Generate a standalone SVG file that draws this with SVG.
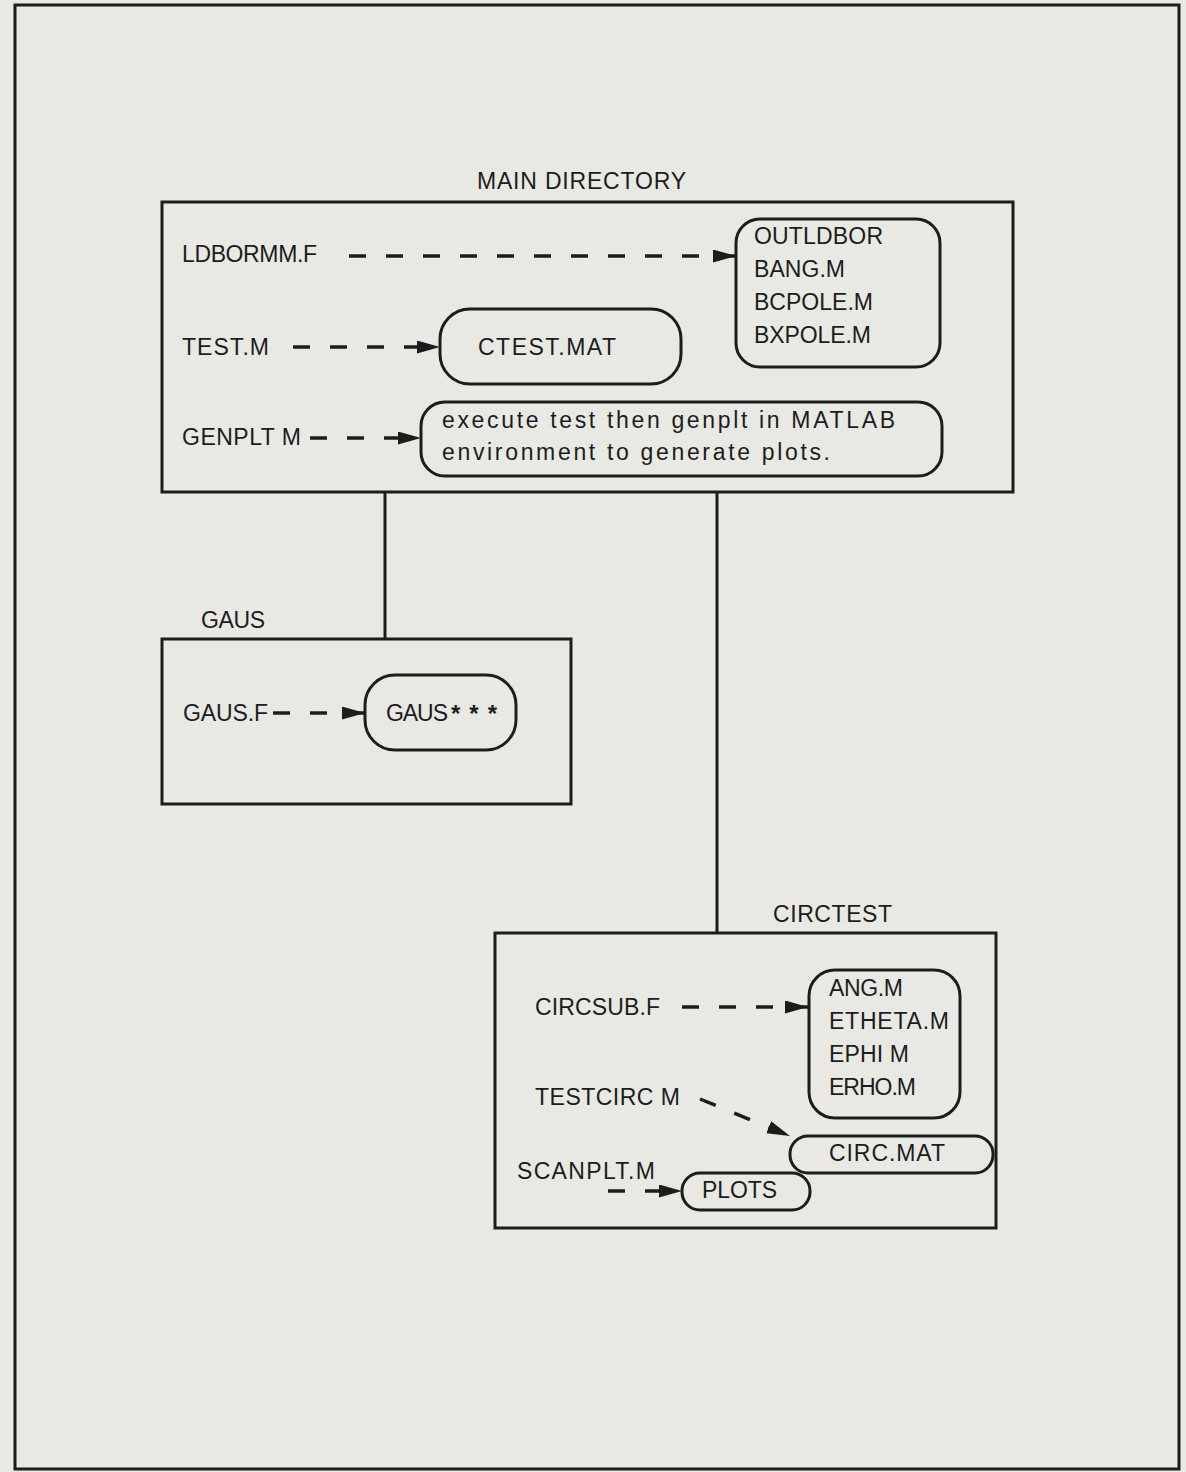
<svg xmlns="http://www.w3.org/2000/svg" width="1186" height="1472" viewBox="0 0 1186 1472">
<style>
.bg{fill:#e9e9e3}
.frame{fill:none;stroke:#1c1c1c;stroke-width:3}
.box{fill:none;stroke:#1c1c1c;stroke-width:3}
.t{font-family:"Liberation Sans",Arial,sans-serif;font-size:23px;fill:#1c1c1c}
.d{fill:none;stroke:#1c1c1c;stroke-width:3.5;stroke-dasharray:17 20}
.ln{fill:none;stroke:#1c1c1c;stroke-width:3}
</style>
<defs>
<marker id="ah" markerWidth="26" markerHeight="14" refX="23" refY="6.5" orient="auto" markerUnits="userSpaceOnUse">
<path d="M0,0 L23,6.5 L0,13 z" fill="#1c1c1c"/>
</marker>
</defs>
<rect class="bg" x="0" y="0" width="1186" height="1472"/>
<rect class="frame" x="15" y="5" width="1164" height="1464"/>

<g id="connectors">
<line class="ln" x1="385" y1="492" x2="385" y2="639"/>
<line class="ln" x1="717" y1="492" x2="717" y2="933"/>
<line class="d" x1="349" y1="256" x2="736" y2="256" marker-end="url(#ah)"/>
<line class="d" x1="293" y1="347" x2="440" y2="347" marker-end="url(#ah)"/>
<line class="d" x1="310" y1="438" x2="421" y2="438" marker-end="url(#ah)"/>
<line class="d" x1="273" y1="713" x2="365" y2="713" marker-end="url(#ah)"/>
<line class="d" x1="682" y1="1007" x2="808" y2="1007" marker-end="url(#ah)"/>
<line class="d" x1="700" y1="1099" x2="790" y2="1136" marker-end="url(#ah)"/>
<line class="d" x1="608" y1="1191" x2="682" y2="1191" stroke-dasharray="17 23" marker-end="url(#ah)"/>
</g>

<g id="main-directory">
<text class="t" x="477" y="189" textLength="209" lengthAdjust="spacing">MAIN DIRECTORY</text>
<rect class="box" x="162" y="202" width="851" height="290"/>
</g>
<g id="ldbormm">
<text class="t" x="182" y="262" textLength="135" lengthAdjust="spacing">LDBORMM.F</text>
</g>
<g id="outldbor">
<rect class="box" x="736" y="219" width="204" height="148" rx="24" ry="24"/>
<text class="t" x="754" y="244" textLength="129" lengthAdjust="spacing">OUTLDBOR</text>
<text class="t" x="754" y="277" textLength="91" lengthAdjust="spacing">BANG.M</text>
<text class="t" x="754" y="310" textLength="119" lengthAdjust="spacing">BCPOLE.M</text>
<text class="t" x="754" y="343" textLength="117" lengthAdjust="spacing">BXPOLE.M</text>
</g>
<g id="test">
<text class="t" x="182" y="355" textLength="87" lengthAdjust="spacing">TEST.M</text>
</g>
<g id="ctest">
<rect class="box" x="440" y="309" width="241" height="75" rx="30" ry="30"/>
<text class="t" x="478" y="355" textLength="138" lengthAdjust="spacing">CTEST.MAT</text>
</g>
<g id="genplt">
<text class="t" x="182" y="445" textLength="119" lengthAdjust="spacing">GENPLT M</text>
</g>
<g id="execute-note">
<rect class="box" x="421" y="402" width="521" height="74" rx="24" ry="24"/>
<text class="t" x="442" y="428" textLength="453" lengthAdjust="spacing">execute test then genplt in MATLAB</text>
<text class="t" x="442" y="460" textLength="388" lengthAdjust="spacing">environment to generate plots.</text>
</g>

<g id="gaus-dir">
<text class="t" x="201" y="628" textLength="64" lengthAdjust="spacing">GAUS</text>
<rect class="box" x="162" y="639" width="409" height="165"/>
</g>
<g id="gausf">
<text class="t" x="183" y="721" textLength="85" lengthAdjust="spacing">GAUS.F</text>
</g>
<g id="gaus-out">
<rect class="box" x="365" y="675" width="151" height="75" rx="30" ry="30"/>
<text class="t" x="386" y="721" textLength="62" lengthAdjust="spacing">GAUS</text>
<text class="t" x="451" y="722" style="font-size:24px;font-weight:bold;letter-spacing:9px">***</text>
</g>

<g id="circtest-dir">
<text class="t" x="773" y="922" textLength="119" lengthAdjust="spacing">CIRCTEST</text>
<rect class="box" x="495" y="933" width="501" height="295"/>
</g>
<g id="circsub">
<text class="t" x="535" y="1015" textLength="125" lengthAdjust="spacing">CIRCSUB.F</text>
</g>
<g id="ang">
<rect class="box" x="809" y="970" width="151" height="148" rx="26" ry="26"/>
<text class="t" x="829" y="996" textLength="74" lengthAdjust="spacing">ANG.M</text>
<text class="t" x="829" y="1029" textLength="120" lengthAdjust="spacing">ETHETA.M</text>
<text class="t" x="829" y="1062" textLength="80" lengthAdjust="spacing">EPHI M</text>
<text class="t" x="829" y="1095" textLength="87" lengthAdjust="spacing">ERHO.M</text>
</g>
<g id="testcirc">
<text class="t" x="535" y="1105" textLength="145" lengthAdjust="spacing">TESTCIRC M</text>
</g>
<g id="circmat">
<rect class="box" x="790" y="1136" width="203" height="37" rx="18" ry="18"/>
<text class="t" x="829" y="1161" textLength="116" lengthAdjust="spacing">CIRC.MAT</text>
</g>
<g id="scanplt">
<text class="t" x="517" y="1179" textLength="138" lengthAdjust="spacing">SCANPLT.M</text>
</g>
<g id="plots">
<rect class="box" x="682" y="1173" width="128" height="37" rx="18" ry="18"/>
<text class="t" x="702" y="1198" textLength="75" lengthAdjust="spacing">PLOTS</text>
</g>
</svg>
